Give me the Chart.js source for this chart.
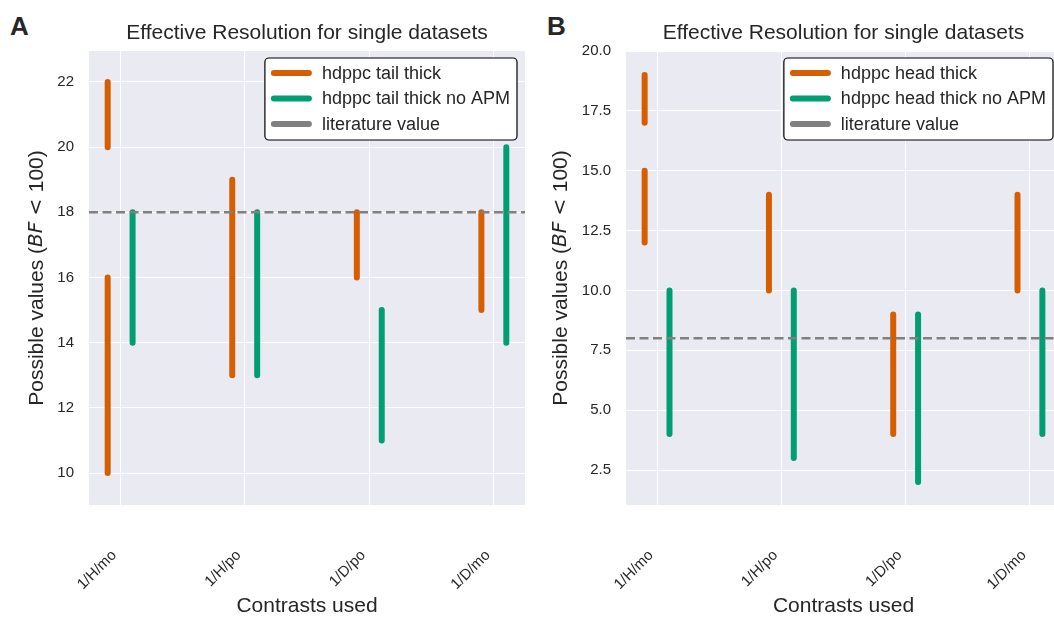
<!DOCTYPE html>
<html>
<head>
<meta charset="utf-8">
<script src="https://cdn.jsdelivr.net/npm/chart.js@4.4.1/dist/chart.umd.min.js"></script>
<style>
body { margin: 0; background: #fff; overflow: hidden; width: 1054px; height: 619px; position: relative; }
.panel { position: absolute; top: 0; }
.letter { position: absolute; top: 11px; font: bold 26px "Liberation Sans", Arial, sans-serif; color: #262626; }
</style>
</head>
<body>
<div class="letter" style="left:10px">A</div>
<div class="letter" style="left:547px">B</div>
<canvas id="chartA" class="panel" style="left:0" width="540" height="619"></canvas>
<canvas id="chartB" class="panel" style="left:540px" width="521" height="619"></canvas>
<script>
// contrasts on the x axis
var categories = ['1/H/mo', '1/H/po', '1/D/po', '1/D/mo'];

// panel A: [low, high] ranges per contrast
var tailThick = [[[20, 22], [10, 16]], [[13, 19]], [[16, 18]], [[15, 18]]];
var tailThickNoApm = [[[14, 18]], [[13, 18]], [[11, 15]], [[14, 20]]];
var tailLiterature = 18;
var tailTicks = [10, 12, 14, 16, 18, 20, 22];

// panel B
var headThick = [[[17, 19], [12, 15]], [[10, 14]], [[4, 9]], [[10, 14]]];
var headThickNoApm = [[[4, 10]], [[3, 10]], [[2, 9]], [[4, 10]]];
var headLiterature = 8;
var headTicks = [2.5, 5, 7.5, 10, 12.5, 15, 17.5, 20];

var orange = '#D55E00';
var green = '#029E73';
var grey = '#808080';
var textColor = '#262626';
var fontFamily = '"Liberation Sans", Arial, sans-serif';
var mathFamily = '"DejaVu Sans", sans-serif';

function segments(ranges, shift) {
  var pts = [];
  for (var i = 0; i < ranges.length; i++) {
    ranges[i].forEach(function(r) {
      pts.push({x: i + shift, y: r[0]}, {x: i + shift, y: r[1]}, {x: i + shift, y: null});
    });
  }
  return pts;
}

var boxLegend = {
  id: 'boxLegend',
  afterDraw: function(chart) {
    var ctx = chart.ctx, area = chart.chartArea;
    var sets = chart.data.datasets;
    ctx.save();
    ctx.font = '18px ' + fontFamily;
    var w = 0;
    sets.forEach(function(d) { w = Math.max(w, ctx.measureText(d.label).width); });
    var bw = w + 64, bh = 82;
    var bx = area.right - 8 - bw, by = area.top + 7;
    var r = 4;
    ctx.beginPath();
    ctx.moveTo(bx + r, by);
    ctx.arcTo(bx + bw, by, bx + bw, by + bh, r);
    ctx.arcTo(bx + bw, by + bh, bx, by + bh, r);
    ctx.arcTo(bx, by + bh, bx, by, r);
    ctx.arcTo(bx, by, bx + bw, by, r);
    ctx.closePath();
    ctx.fillStyle = '#fff';
    ctx.fill();
    ctx.lineWidth = 1.2;
    ctx.strokeStyle = '#000';
    ctx.stroke();
    sets.forEach(function(d, i) {
      var y = by + 15 + i * 25.5;
      ctx.beginPath();
      ctx.lineCap = 'round';
      ctx.lineWidth = 6;
      ctx.strokeStyle = d.borderColor;
      ctx.moveTo(bx + 9, y);
      ctx.lineTo(bx + 44, y);
      ctx.stroke();
      ctx.fillStyle = textColor;
      ctx.textBaseline = 'middle';
      ctx.textAlign = 'left';
      ctx.fillText(d.label, bx + 57, y + 1);
    });
    ctx.restore();
  }
};

// y title with italic BF, and rotated x tick labels anchored like matplotlib ha='right'
var extraText = {
  id: 'extraText',
  afterDraw: function(chart, args, o) {
    var ctx = chart.ctx, area = chart.chartArea;
    var parts = [
      ['Possible values (', '21px ' + fontFamily],
      ['BF', 'italic 20px ' + mathFamily],
      [' < ', '20px ' + mathFamily],
      ['100', '21px ' + fontFamily],
      [')', '21px ' + fontFamily]
    ];
    ctx.save();
    ctx.translate(o.x, (area.top + area.bottom) / 2);
    ctx.rotate(-Math.PI / 2);
    ctx.fillStyle = textColor;
    ctx.textBaseline = 'middle';
    ctx.textAlign = 'left';
    var total = 0;
    parts.forEach(function(p) {
      ctx.font = p[1];
      total += ctx.measureText(p[0]).width;
    });
    var x = -total / 2;
    parts.forEach(function(p) {
      ctx.font = p[1];
      ctx.fillText(p[0], x, 0);
      x += ctx.measureText(p[0]).width;
    });
    ctx.restore();

    var xs = chart.scales.x;
    ctx.save();
    ctx.font = '15px ' + fontFamily;
    ctx.fillStyle = textColor;
    ctx.textAlign = 'right';
    ctx.textBaseline = 'middle';
    categories.forEach(function(c, i) {
      var px = xs.getPixelForValue(i);
      ctx.save();
      ctx.translate(px - 6, area.bottom + 48);
      ctx.rotate(-Math.PI / 4);
      ctx.fillText(c, 0, 0);
      ctx.restore();
    });
    ctx.restore();
  }
};

var plotBg = {
  id: 'plotBg',
  beforeDraw: function(chart) {
    var ctx = chart.ctx, a = chart.chartArea;
    ctx.save();
    ctx.fillStyle = '#EAEAF2';
    ctx.fillRect(a.left, a.top, a.right - a.left, a.bottom - a.top);
    ctx.restore();
  }
};

function makeChart(id, o) {
  var ctx = document.getElementById(id);
  return new Chart(ctx, {
    type: 'line',
    data: {
      datasets: [
        {
          label: o.names[0],
          data: segments(o.first, -0.1),
          borderColor: orange,
          borderWidth: 6,
          borderCapStyle: 'round',
          pointRadius: 0,
          spanGaps: false,
          order: 1
        },
        {
          label: o.names[1],
          data: segments(o.second, 0.1),
          borderColor: green,
          borderWidth: 6,
          borderCapStyle: 'round',
          pointRadius: 0,
          spanGaps: false,
          order: 1
        },
        {
          label: 'literature value',
          data: [{x: -0.25, y: o.lit}, {x: 3.25, y: o.lit}],
          borderColor: grey,
          borderWidth: 2.5,
          borderDash: [9, 4.5],
          pointRadius: 0,
          order: 0
        }
      ]
    },
    options: {
      responsive: false,
      animation: false,
      layout: {padding: {left: 0, right: o.padRight, top: 0, bottom: 0}},
      plugins: {
        legend: {display: false},
        tooltip: {enabled: false},
        title: {
          display: true,
          text: 'Effective Resolution for single datasets',
          fullSize: false,
          color: textColor,
          font: {family: fontFamily, size: 21, weight: 'normal'},
          padding: {top: 20.4, bottom: 5.4}
        },
        extraText: {x: o.ylabelX}
      },
      scales: {
        x: {
          type: 'linear',
          min: -0.25,
          max: 3.25,
          afterBuildTicks: function(scale) {
            scale.ticks = categories.map(function(c, i) { return {value: i}; });
          },
          afterFit: function(scale) { scale.height = 114; },
          border: {display: false},
          grid: {color: '#ffffff', lineWidth: 1, drawTicks: false},
          ticks: {display: false},
          title: {
            display: true,
            text: 'Contrasts used',
            color: textColor,
            font: {family: fontFamily, size: 21},
            padding: {top: 0, bottom: 0}
          }
        },
        y: {
          min: o.yMin,
          max: o.yMax,
          afterBuildTicks: function(scale) {
            scale.ticks = o.ticks.map(function(v) { return {value: v}; });
          },
          afterFit: function(scale) { scale.width = o.axisWidth; },
          border: {display: false},
          grid: {color: '#ffffff', lineWidth: 1, drawTicks: false},
          ticks: {
            padding: 15,
            color: textColor,
            font: {family: fontFamily, size: 15},
            callback: function(v) { return o.decimals ? v.toFixed(1) : v; }
          }
        }
      }
    },
    plugins: [plotBg, boxLegend, extraText]
  });
}

makeChart('chartA', {
  names: ['hdppc tail thick', 'hdppc tail thick no APM'],
  first: tailThick, second: tailThickNoApm, lit: tailLiterature, ticks: tailTicks,
  yMin: 9.02, yMax: 22.95, decimals: false,
  axisWidth: 89, padRight: 15, ylabelX: 37
});

makeChart('chartB', {
  names: ['hdppc head thick', 'hdppc head thick no APM'],
  first: headThick, second: headThickNoApm, lit: headLiterature, ticks: headTicks,
  yMin: 1.04, yMax: 20.0, decimals: true,
  axisWidth: 86, padRight: 0, ylabelX: 21
});
</script>
</body>
</html>
